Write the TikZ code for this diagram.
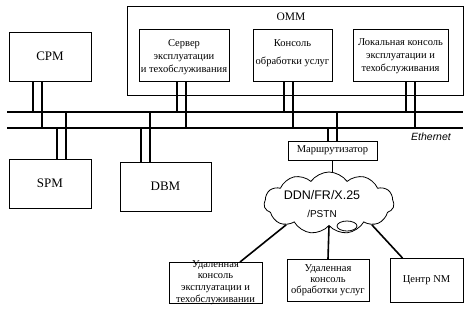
\documentclass[tikz,border=0pt]{standalone}
\usepackage{fontspec}
\setmainfont{Liberation Serif}
\setsansfont{Liberation Sans}
\usetikzlibrary{shapes.symbols,shapes.geometric}
\begin{document}
\begin{tikzpicture}[x=1pt,y=-1pt,
  box/.style={draw,line width=0.8pt,inner sep=0pt,outer sep=0pt,anchor=north west},
  txt/.style={inner sep=0pt,align=center,font=\fontsize{10.5}{13}\selectfont},
  big/.style={inner sep=0pt,font=\fontsize{13}{14}\selectfont},
  bus/.style={line width=1.8pt},
  tap/.style={line width=1.8pt},
  link/.style={line width=1.6pt}]
\useasboundingbox (0,0) rectangle (467,314);
% boxes
\node[box,minimum width=82pt,minimum height=49pt] (cpm) at (9,32) {};
\node[box,minimum width=336pt,minimum height=89pt] (omm) at (127,6) {};
\node[box,minimum width=90pt,minimum height=52pt] (server) at (139,29) {};
\node[box,minimum width=79pt,minimum height=52pt] (console) at (253,29) {};
\node[box,minimum width=95pt,minimum height=52pt] (local) at (353,29) {};
\node[box,minimum width=82pt,minimum height=49pt] (spm) at (9,159) {};
\node[box,minimum width=91pt,minimum height=49pt] (dbm) at (120,162) {};
\node[box,minimum width=89pt,minimum height=19pt] (router) at (288,141) {};
\node[box,minimum width=93pt,minimum height=41pt] (rc1) at (169,262) {};
\node[box,minimum width=82pt,minimum height=42pt] (rc2) at (287,259) {};
\node[box,minimum width=73pt,minimum height=44pt] (nm) at (390,258) {};
% texts
\node[big] (tcpm) at (cpm.center) {CPM};
\node[big] (tspm) at (spm.center) {SPM};
\node[big] (tdbm) at (dbm.center) {DBM};
\node[inner sep=0pt,font=\fontsize{11.5}{13}\selectfont] (tomm) at (291,17) {ОММ};
\node[txt] (tserver) at ([yshift=-2pt]server.center) {Сервер\\эксплуатации\\и техобслуживания};
\node[txt,font=\fontsize{10.5}{18}\selectfont] (tconsole) at ([yshift=2pt]console.center) {Консоль\\обработки услуг};
\node[txt] (tlocal) at ([yshift=-1pt]local.center) {Локальная консоль\\эксплуатации и\\техобслуживания};
\node[txt] (trouter) at (router.center) {Маршрутизатор};
\node[txt,font=\fontsize{10.5}{11.8}\selectfont] (trc1) at (rc1.center) {Удаленная\\консоль\\эксплуатации и\\техобслуживании};
\node[txt,font=\fontsize{10.5}{11}\selectfont] (trc2) at (rc2.center) {Удаленная\\консоль\\обработки услуг};
\node[txt] (tnm) at (nm.center) {Центр NM};
\node[inner sep=0pt,font=\sffamily\itshape\fontsize{10.5}{12}\selectfont] (eth) at (431,137) {Ethernet};
% bus
\coordinate (bTL) at (7,112);
\coordinate (bTR) at (463,112);
\coordinate (bBL) at (7,128);
\coordinate (bBR) at (463,128);
\draw[bus] (bTL) -- (bTR);
\draw[bus] (bBL) -- (bBR);
% taps
\coordinate (c1) at (33,112);  \coordinate (c2) at (42,128);
\coordinate (s1) at (177,112); \coordinate (s2) at (186,128);
\coordinate (k1) at (284,112); \coordinate (k2) at (293,128);
\coordinate (l1) at (406,112); \coordinate (l2) at (415,128);
\coordinate (p1) at (66,112);  \coordinate (p2) at (57,128);
\coordinate (d1) at (150,112); \coordinate (d2) at (141,128);
\coordinate (r1) at (337,112); \coordinate (r2) at (328,128);
\draw[tap] (cpm.south -| c1) -- (c1);
\draw[tap] (cpm.south -| c2) -- (c2);
\draw[tap] (server.south -| s1) -- (s1);
\draw[tap] (server.south -| s2) -- (s2);
\draw[tap] (console.south -| k1) -- (k1);
\draw[tap] (console.south -| k2) -- (k2);
\draw[tap] (local.south -| l1) -- (l1);
\draw[tap] (local.south -| l2) -- (l2);
\draw[tap] (spm.north -| p1) -- (p1);
\draw[tap] (spm.north -| p2) -- (p2);
\draw[tap] (dbm.north -| d1) -- (d1);
\draw[tap] (dbm.north -| d2) -- (d2);
\draw[tap] (router.north -| r1) -- (r1);
\draw[tap] (router.north -| r2) -- (r2);
% cloud
\node[cloud,draw,fill=white,line width=0.8pt,cloud puffs=11,cloud puff arc=110,aspect=2.2,
      minimum width=130pt,minimum height=62pt,inner sep=0pt] (cl) at (329,203) {};
\node[ellipse,draw,fill=white,line width=0.8pt,minimum width=20pt,minimum height=10pt,inner sep=0pt] (bump) at (347,226) {};
\node[inner sep=0pt,font=\sffamily\fontsize{12.5}{14}\selectfont] (tcl1) at (322,195) {DDN/FR/X.25};
\node[inner sep=0pt,font=\sffamily\fontsize{10}{12}\selectfont] (tcl2) at (322,214) {/PSTN};
% links
\draw[link] (router.south) -- (router.south |- cl.north);
\draw[link] (cl.207) -- ([xshift=24.5pt]rc1.north);
\draw[link] (cl.south) -- (rc2.north);
\draw[link] (cl.333) -- ([xshift=-24pt]nm.north);
\end{tikzpicture}
\end{document}
